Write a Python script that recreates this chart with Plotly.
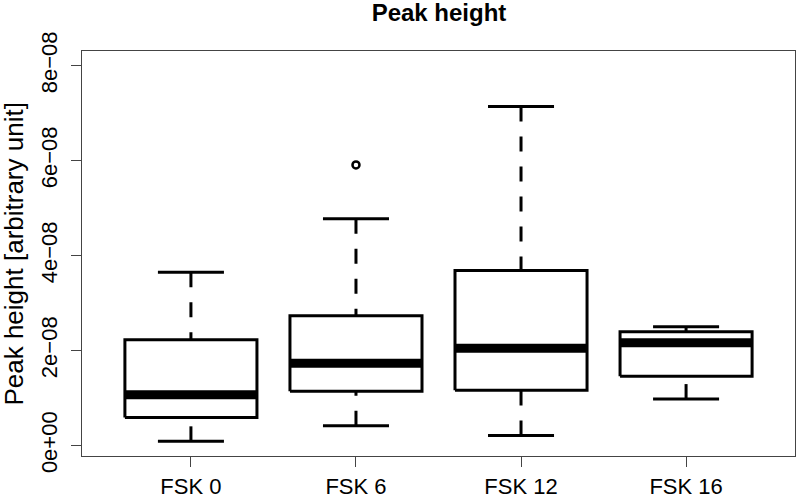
import plotly.graph_objects as go

groups = ["FSK 0", "FSK 6", "FSK 12", "FSK 16"]
lower_whisker = [0.088e-8, 0.417e-8, 0.212e-8, 0.978e-8]
q1 = [0.588e-8, 1.143e-8, 1.163e-8, 1.459e-8]
median = [1.069e-8, 1.732e-8, 2.047e-8, 2.165e-8]
q3 = [2.226e-8, 2.733e-8, 3.685e-8, 2.396e-8]
upper_whisker = [3.65e-8, 4.774e-8, 7.143e-8, 2.499e-8]
outlier_group = [2]
outlier_value = [5.91e-8]

ytick_vals = [0, 2e-8, 4e-8, 6e-8, 8e-8]
ytick_text = ["0e+00", "2e\u221208", "4e\u221208", "6e\u221208", "8e\u221208"]

BOX_HALF = 0.4
CAP_HALF = 0.2
FONT = "Liberation Sans, Arial, sans-serif"
DASH = "15px,15px"

fig = go.Figure()
for i, g in enumerate(groups):
    x = i + 1
    # whiskers (dashed), drawn from whisker end towards the box like R's bxp
    fig.add_trace(go.Scatter(x=[x, x], y=[upper_whisker[i], q3[i]], mode="lines",
                             line=dict(color="black", width=3, dash=DASH),
                             showlegend=False, hoverinfo="skip"))
    fig.add_trace(go.Scatter(x=[x, x], y=[lower_whisker[i], q1[i]], mode="lines",
                             line=dict(color="black", width=3, dash=DASH),
                             showlegend=False, hoverinfo="skip"))
    # caps
    for v in (upper_whisker[i], lower_whisker[i]):
        fig.add_trace(go.Scatter(x=[x - CAP_HALF, x + CAP_HALF], y=[v, v], mode="lines",
                                 line=dict(color="black", width=3),
                                 showlegend=False, hoverinfo="skip"))
    # box
    fig.add_trace(go.Scatter(x=[x - BOX_HALF, x + BOX_HALF, x + BOX_HALF, x - BOX_HALF, x - BOX_HALF],
                             y=[q1[i], q1[i], q3[i], q3[i], q1[i]], mode="lines",
                             line=dict(color="black", width=3),
                             showlegend=False, name=g))
    # median
    fig.add_trace(go.Scatter(x=[x - BOX_HALF, x + BOX_HALF], y=[median[i], median[i]], mode="lines",
                             line=dict(color="black", width=9),
                             showlegend=False, hoverinfo="skip"))

fig.add_trace(go.Scatter(x=outlier_group, y=outlier_value, mode="markers",
                         marker=dict(symbol="circle-open", size=7, color="black",
                                     line=dict(width=2.5, color="black")),
                         showlegend=False))

fig.update_layout(
    width=800, height=503,
    margin=dict(l=82, r=4, t=51, b=39),
    paper_bgcolor="white", plot_bgcolor="white",
    font=dict(family=FONT, size=22, color="black"),
    title=dict(text="<b>Peak height</b>", x=(82 + 796) / 2 / 800, xanchor="center",
               y=1 - 13 / 503, yanchor="middle",
               font=dict(family=FONT, size=24, color="black")),
    xaxis=dict(range=[0.34, 4.66], tickvals=[1, 2, 3, 4], ticktext=groups,
               ticks="outside", ticklen=10, tickwidth=1, tickcolor="#444",
               showline=True, mirror=True, linecolor="#444", linewidth=1.2,
               showgrid=False, zeroline=False,
               tickfont=dict(family=FONT, size=22, color="black")),
    yaxis=dict(range=[-0.221e-8, 8.31e-8], tickvals=ytick_vals, ticktext=ytick_text,
               ticks="outside", ticklen=10, tickwidth=1, tickcolor="#444", tickangle=-90,
               ticklabelstandoff=5,
               showline=True, mirror=True, linecolor="#444", linewidth=1.2,
               showgrid=False, zeroline=False,
               tickfont=dict(family=FONT, size=22, color="black")),
    annotations=[dict(text="Peak height [arbitrary unit]", xref="paper", yref="paper",
                      x=(13 - 82) / 714, y=0.5, xanchor="center", yanchor="middle",
                      textangle=-90, showarrow=False,
                      font=dict(family=FONT, size=26, color="black"))],
)

fig.write_html("out.html", config={"displayModeBar": False},
               post_script="document.body.style.margin='0';")
